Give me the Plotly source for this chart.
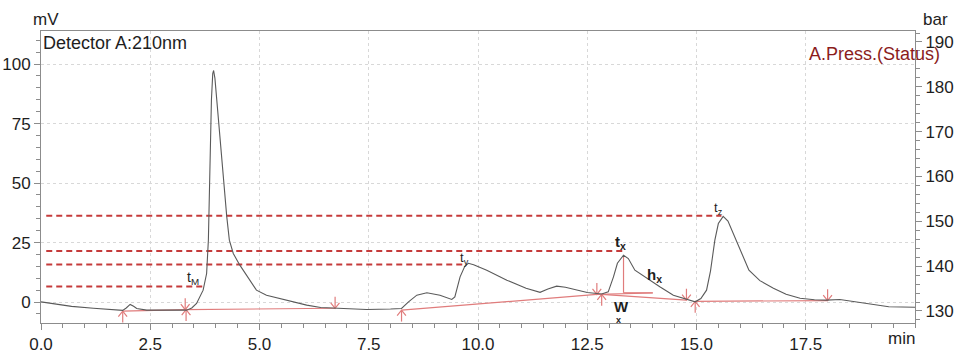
import plotly.graph_objects as go

# Detector A (210 nm) signal, time in min, response in mV
time_min = [0.0, 0.3, 0.7, 1.2, 1.7, 1.87, 1.95, 2.04, 2.12, 2.19, 2.42, 2.8, 3.1, 3.33,
            3.45, 3.56, 3.71, 3.79, 3.83, 3.87, 3.90, 3.93, 3.95, 3.98, 4.02, 4.06, 4.12,
            4.19, 4.25, 4.31, 4.36, 4.40, 4.55, 4.78, 4.93, 5.16, 5.54, 5.77, 6.08, 6.4,
            6.8, 7.45, 8.0, 8.25, 8.41, 8.6, 8.83, 9.13, 9.40, 9.47, 9.59, 9.70, 9.78,
            9.9, 10.2, 10.66, 11.1, 11.42, 11.6, 11.8, 12.0, 12.18, 12.5, 12.83, 12.98,
            13.1, 13.19, 13.33, 13.44, 13.59, 13.86, 14.16, 14.47, 14.77, 14.97, 15.1,
            15.23, 15.32, 15.42, 15.5, 15.61, 15.72, 15.91, 16.2, 16.45, 16.76, 17.05,
            17.37, 17.7, 17.98, 18.28, 18.6, 19.05, 19.4, 20.0]
signal_mv = [0.1, -0.8, -1.8, -2.6, -3.2, -3.5, -2.5, -1.0, -1.8, -2.7, -3.4, -3.5, -3.5, -3.4,
             -2.5, -0.6, 5.0, 12.0, 26.0, 60.0, 85.0, 96.0, 97.3, 94.0, 85.0, 76.0, 62.0,
             47.0, 36.0, 26.0, 22.5, 20.4, 15.5, 9.2, 5.0, 2.9, 1.1, 0.1, -1.3, -2.3,
             -2.7, -3.1, -2.9, -2.7, 0.1, 2.9, 3.9, 2.9, 1.1, 2.2, 10.6, 15.1, 16.3,
             15.7, 13.4, 9.2, 5.8, 4.1, 5.5, 6.7, 6.2, 5.3, 4.0, 3.4, 4.3,
             10.6, 16.3, 19.7, 18.3, 13.4, 10.0, 6.4, 2.9, 1.1, 0.1, 1.5,
             5.0, 13.0, 26.0, 33.0, 36.0, 34.0, 26.0, 13.4, 9.0, 5.8, 3.3,
             1.6, 1.0, 0.8, 1.1, 0.2, -1.3, -2.0, -2.2]

# Integration baselines: (start time, start level, end time, end level)
base_t0 = [1.87, 3.32, 8.25, 12.72, 12.83, 14.97]
base_y0 = [-3.8, -3.2, -3.4, 3.2, 3.2, 0.3]
base_t1 = [3.32, 6.73, 12.72, 14.0, 14.77, 18.0]
base_y1 = [-3.2, -2.6, 3.2, 3.8, 0.8, 0.6]

# Peak start (up) and end (down) event marks
start_t = [1.87, 3.32, 8.25, 12.83, 14.97]
start_y = [-3.8, -3.2, -3.4, 3.2, 0.3]
end_t = [3.30, 6.73, 12.72, 14.77, 18.0]
end_y = [-3.2, -2.6, 3.2, 0.8, 0.6]

# Retention-time reference lines: label, apex time, level, label position
peak_names = ["t<sub>M</sub>", "t<sub>y</sub>", "<b>t<sub>x</sub></b>", "t<sub>z</sub>"]
peak_times = [3.71, 9.74, 13.36, 15.57]
peak_levels = [6.5, 15.8, 21.5, 36.3]
label_x = [3.48, 9.68, 13.25, 15.5]
label_y = [10.0, 18.5, 25.0, 39.3]
label_size = [14, 13, 15, 13]

# Height and width markers for peak x
hx_time, hx_top, hx_foot, hx_end = 13.33, 19.7, 3.9, 14.0

x_ticks = [0.0, 2.5, 5.0, 7.5, 10.0, 12.5, 15.0, 17.5]
x_tick_text = ["0.0", "2.5", "5.0", "7.5", "10.0", "12.5", "15.0", "17.5"]
y_ticks = [0, 25, 50, 75, 100]
y2_ticks = [130, 140, 150, 160, 170, 180, 190]

RED = "#C53B3B"
PINK = "#E07C7C"
AXIS = "#8C8C8C"
TXT = "#1E1E1E"
FONT = "Liberation Sans, Arial"

fig = go.Figure()

# dashed reference lines from the axis to each apex
for t, lv in zip(peak_times, peak_levels):
    fig.add_trace(go.Scatter(x=[0.12, t], y=[lv, lv], mode="lines",
                             line=dict(color=RED, width=2, dash="6px,4px"),
                             hoverinfo="skip", showlegend=False))

# baselines
bx, by = [], []
for a, b, c, d in zip(base_t0, base_y0, base_t1, base_y1):
    bx += [a, c, None]
    by += [b, d, None]
bx += [hx_time, hx_time, None, hx_time, hx_end, None]
by += [hx_top, hx_foot, None, hx_foot, hx_foot, None]
fig.add_trace(go.Scatter(x=bx, y=by, mode="lines", line=dict(color=PINK, width=1.2),
                         hoverinfo="skip", showlegend=False))

# event arrows
stem, dx, dy = 4.8, 0.1, 2.3
ax_, ay_ = [], []
for t, b in zip(start_t, start_y):
    ax_ += [t, t, None, t - dx, t, t + dx, None]
    ay_ += [b - stem, b, None, b - dy, b, b - dy, None]
for t, b in zip(end_t, end_y):
    ax_ += [t, t, None, t - dx, t, t + dx, None]
    ay_ += [b + stem, b, None, b + dy, b, b + dy, None]
fig.add_trace(go.Scatter(x=ax_, y=ay_, mode="lines", line=dict(color=PINK, width=1.2),
                         hoverinfo="skip", showlegend=False))

# chromatogram
fig.add_trace(go.Scatter(x=time_min, y=signal_mv, mode="lines",
                         line=dict(color="#5A5A5A", width=1.1),
                         showlegend=False))

# pressure axis carrier
fig.add_trace(go.Scatter(x=[None], y=[None], yaxis="y2", showlegend=False))

ann = []
for name, x, y, s in zip(peak_names, label_x, label_y, label_size):
    ann.append(dict(x=x, y=y, text=name, showarrow=False,
                    font=dict(size=s, color=TXT, family=FONT)))
ann += [
    dict(x=14.05, y=11.3, text="<b>h<sub>x</sub></b>", showarrow=False,
         font=dict(size=15, color=TXT, family=FONT)),
    dict(x=13.28, y=-2.0, text="<b>W</b>", showarrow=False,
         font=dict(size=15, color=TXT, family=FONT)),
    dict(x=13.22, y=-7.4, text="<b>x</b>", showarrow=False,
         font=dict(size=9, color=TXT, family=FONT)),
    dict(xref="paper", yref="paper", x=0.0, y=1.0, xanchor="left", yanchor="top",
         text="Detector A:210nm", showarrow=False,
         font=dict(size=18, color=TXT, family=FONT)),
    dict(xref="paper", yref="paper", x=0.006, y=1.0, xanchor="center", yanchor="bottom",
         text="mV", showarrow=False, yshift=0,
         font=dict(size=17, color=TXT, family=FONT)),
    dict(xref="paper", yref="paper", x=1.024, y=1.0, xanchor="center", yanchor="bottom",
         text="bar", showarrow=False, yshift=0,
         font=dict(size=17, color=TXT, family=FONT)),
    dict(xref="paper", yref="paper", x=1.031, y=0.92, xanchor="right", yanchor="middle",
         text="A.Press.(Status)", showarrow=False,
         font=dict(size=18, color="#8B1C1C", family=FONT)),
    dict(xref="paper", yref="paper", x=0.985, y=0, xanchor="center", yanchor="top",
         text="min", showarrow=False, yshift=-4,
         font=dict(size=17, color=TXT, family=FONT)),
]

fig.update_layout(
    width=957, height=351,
    margin=dict(l=41, r=42, t=31, b=28, autoexpand=False),
    paper_bgcolor="white", plot_bgcolor="white",
    font=dict(family=FONT, size=17, color=TXT),
    annotations=ann,
    xaxis=dict(range=[0, 20], tickvals=x_ticks, ticktext=x_tick_text, automargin=False,
               showline=True, linecolor=AXIS, linewidth=1, mirror=True,
               ticks="outside", ticklen=6, tickcolor=AXIS,
               tickfont=dict(size=17, color=TXT),
               minor=dict(dtick=0.5, tick0=0, ticks="outside", ticklen=4, tickcolor=AXIS),
               showgrid=True, gridcolor="#D8D8D8", griddash="dot", gridwidth=1,
               zeroline=False),
    yaxis=dict(range=[-8.8, 113.9], tickvals=y_ticks, automargin=False,
               showline=True, linecolor=AXIS, linewidth=1,
               ticks="outside", ticklen=6, tickcolor=AXIS,
               tickfont=dict(size=17, color=TXT),
               minor=dict(dtick=5, tick0=0, ticks="outside", ticklen=4, tickcolor=AXIS),
               showgrid=True, gridcolor="#D8D8D8", griddash="dot", gridwidth=1,
               zeroline=False),
    yaxis2=dict(range=[127.32, 192.45], tickvals=y2_ticks, overlaying="y", side="right",
                automargin=False, showline=True, linecolor=AXIS, linewidth=1,
                ticks="outside", ticklen=6, tickcolor=AXIS,
                tickfont=dict(size=17, color=TXT),
                minor=dict(dtick=2, tick0=0, ticks="outside", ticklen=4, tickcolor=AXIS),
                showgrid=False, zeroline=False),
)

fig.write_html("out.html")
